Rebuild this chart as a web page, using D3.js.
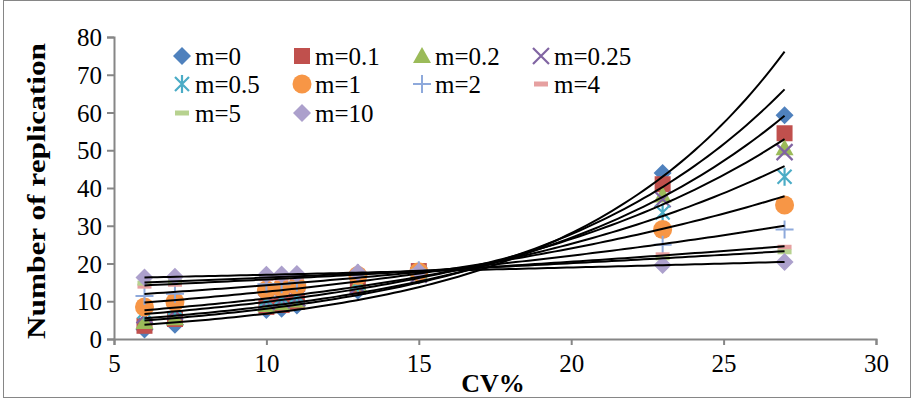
<!DOCTYPE html>
<html>
<head>
<meta charset="utf-8">
<script src="https://cdn.jsdelivr.net/npm/d3@7/dist/d3.min.js"></script>
<style>
  html, body { margin: 0; padding: 0; background: #fff; }
  svg { display: block; }
  text { font-family: "Liberation Serif", "Times New Roman", serif; fill: #000; }
</style>
</head>
<body>
<svg id="chart" width="916" height="399"></svg>
<script>
// ---- data ----
const cv = [6, 7, 10, 10.5, 11, 13, 15, 23, 27];
const seriesNames = ["m=0", "m=0.1", "m=0.2", "m=0.25", "m=0.5", "m=1", "m=2", "m=4", "m=5", "m=10"];
const m0   = [2.5, 3.8, 7.7, 8.0, 8.9, 12.8, 16.8, 44.0, 59.3];
const m01  = [3.5, 5.3, 8.5, 9.0, 9.8, 14.0, 18.0, 41.0, 54.5];
const m02  = [4.5, 5.5, 9.0, 9.5, 10.2, 14.5, 17.9, 38.0, 50.5];
const m025 = [6.3, 7.2, 9.8, 10.3, 10.8, 14.0, 17.0, 37.0, 49.5];
const m05  = [7.3, 8.3, 10.5, 11.0, 11.5, 14.9, 17.6, 33.5, 43.0];
const m1   = [8.5, 9.8, 13.0, 13.5, 14.0, 16.8, 17.8, 29.0, 35.5];
const m2   = [11.4, 12.0, 14.5, 14.5, 15.0, 17.5, 18.2, 25.0, 29.0];
const m4   = [14.0, 14.5, 16.0, 16.0, 16.3, 17.0, 18.0, 22.3, 24.3];
const m5   = [14.8, 15.2, 16.5, 16.5, 16.7, 17.3, 18.0, 21.5, 23.1];
const m10  = [16.3, 16.5, 17.0, 17.1, 17.2, 17.6, 17.9, 19.6, 20.4];
const seriesValues = [m0, m01, m02, m025, m05, m1, m2, m4, m5, m10];
const xTicks = [5, 10, 15, 20, 25, 30];
const yTicks = [0, 10, 20, 30, 40, 50, 60, 70, 80];

// ---- styles ----
const colors = ["#4F81BD", "#C0504D", "#9BBB59", "#8064A2", "#4BACC6", "#F79646", "#8EA9DB", "#E6A0A0", "#B7D28F", "#ACA0CC"];
const shapes = ["diamond", "square", "triangle", "x", "asterisk", "circle", "plus", "dash", "dash", "diamond"];

const svg = d3.select("#chart");

// chart area border
svg.append("rect").attr("x", 3.5).attr("y", 0.5).attr("width", 907).attr("height", 397)
  .attr("fill", "#fff").attr("stroke", "#868686").attr("stroke-width", 1);

const x = d3.scaleLinear().domain([5, 30]).range([114, 876]);
const y = d3.scaleLinear().domain([0, 80]).range([339, 37]);

// axes
const axisColor = "#868686";
const gx = svg.append("g").attr("transform", `translate(0,${y(0)})`)
  .call(d3.axisBottom(x).tickValues(xTicks).tickSize(6).tickPadding(8).tickFormat(d3.format("d")));
const gy = svg.append("g").attr("transform", `translate(${x(5)},0)`)
  .call(d3.axisLeft(y).tickValues(yTicks).tickSize(7).tickPadding(5).tickFormat(d3.format("d")));
[gx, gy].forEach(g => {
  g.select(".domain").attr("stroke", axisColor).attr("stroke-width", 2);
  g.selectAll(".tick line").attr("stroke", axisColor).attr("stroke-width", 2);
  g.selectAll(".tick text").attr("font-family", "Liberation Serif").attr("font-size", 25).attr("fill", "#000");
});
gy.selectAll(".tick text").attr("dy", "0.34em");
gx.selectAll(".tick text").attr("dy", "0.75em");

// axis titles
svg.append("text").attr("x", 493).attr("y", 392).attr("text-anchor", "middle")
  .attr("font-size", 26).attr("font-weight", "bold").text("CV%");
svg.append("text").attr("transform", `translate(45,191) rotate(-90)`).attr("text-anchor", "middle")
  .attr("font-size", 26).attr("font-weight", "bold")
  .attr("textLength", 296).attr("lengthAdjust", "spacingAndGlyphs")
  .text("Number of replication");

// marker drawing
function drawMarker(g, shape, color, cx, cy) {
  switch (shape) {
    case "diamond":
      g.append("path").attr("d", `M${cx},${cy-9}L${cx+9},${cy}L${cx},${cy+9}L${cx-9},${cy}Z`).attr("fill", color);
      break;
    case "square":
      g.append("rect").attr("x", cx-8).attr("y", cy-8).attr("width", 16).attr("height", 16).attr("fill", color);
      break;
    case "triangle":
      g.append("path").attr("d", `M${cx},${cy-9}L${cx+9},${cy+7}L${cx-9},${cy+7}Z`).attr("fill", color);
      break;
    case "circle":
      g.append("circle").attr("cx", cx).attr("cy", cy).attr("r", 9.5).attr("fill", color);
      break;
    case "x":
      g.append("path").attr("d", `M${cx-8},${cy-8}L${cx+8},${cy+8}M${cx-8},${cy+8}L${cx+8},${cy-8}`)
        .attr("stroke", color).attr("stroke-width", 2.2).attr("fill", "none");
      break;
    case "asterisk":
      g.append("path").attr("d", `M${cx-7},${cy-7}L${cx+7},${cy+7}M${cx-7},${cy+7}L${cx+7},${cy-7}M${cx},${cy-9}L${cx},${cy+9}`)
        .attr("stroke", color).attr("stroke-width", 2.2).attr("fill", "none");
      break;
    case "plus":
      g.append("path").attr("d", `M${cx-9},${cy}L${cx+9},${cy}M${cx},${cy-9}L${cx},${cy+9}`)
        .attr("stroke", color).attr("stroke-width", 2).attr("fill", "none");
      break;
    case "dash":
      g.append("rect").attr("x", cx-7).attr("y", cy-2.5).attr("width", 14).attr("height", 5).attr("fill", color);
      break;
  }
}

// data markers
const gm = svg.append("g");
seriesValues.forEach((vals, i) => {
  const g = gm.append("g");
  vals.forEach((v, j) => drawMarker(g, shapes[i], colors[i], x(cv[j]), y(v)));
});

// exponential trendlines (least squares on ln y, like a spreadsheet)
function expFit(xs, ys) {
  const n = xs.length;
  const ly = ys.map(Math.log);
  const mx = d3.mean(xs), my = d3.mean(ly);
  let sxy = 0, sxx = 0;
  for (let k = 0; k < n; k++) { sxy += (xs[k]-mx)*(ly[k]-my); sxx += (xs[k]-mx)**2; }
  const b = sxy / sxx, a = Math.exp(my - b*mx);
  return t => a * Math.exp(b*t);
}
const line = d3.line().x(d => x(d[0])).y(d => y(d[1]));
const xMin = d3.min(cv), xMax = d3.max(cv);
const samples = d3.range(0, 101).map(k => xMin + (xMax - xMin) * k / 100);
const gt = svg.append("g");
seriesValues.forEach(vals => {
  const f = expFit(cv, vals);
  gt.append("path").attr("d", line(samples.map(t => [t, f(t)])))
    .attr("fill", "none").attr("stroke", "#000").attr("stroke-width", 2);
});

// legend
const lg = svg.append("g");
const colX = [182, 302, 422, 541];
const rowY = [56, 84, 113];
seriesNames.forEach((name, i) => {
  const cxm = colX[i % 4], cym = rowY[Math.floor(i / 4)];
  drawMarker(lg, shapes[i], colors[i], cxm, cym);
  lg.append("text").attr("x", cxm + 13).attr("y", cym).attr("dy", "0.34em")
    .attr("font-size", 25).text(name);
});
</script>
</body>
</html>
